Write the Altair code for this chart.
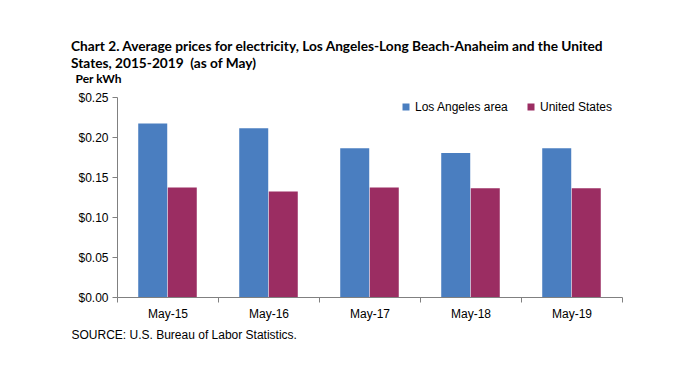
import altair as alt
import pandas as pd

categories = ["May-15", "May-16", "May-17", "May-18", "May-19"]
la_values = [0.217, 0.211, 0.186, 0.180, 0.186]
us_values = [0.137, 0.132, 0.137, 0.136, 0.136]
series = ["Los Angeles area", "United States"]
colors = ["#4A7EC0", "#9B2D62"]

rows = []
for c, la, us in zip(categories, la_values, us_values):
    rows.append({"month": c, "series": series[0], "price": la})
    rows.append({"month": c, "series": series[1], "price": us})
df = pd.DataFrame(rows)

chart = alt.Chart(df).mark_bar(size=29).encode(
    x=alt.X("month:N", sort=categories,
            scale=alt.Scale(paddingInner=0, paddingOuter=0),
            axis=alt.Axis(title="SOURCE: U.S. Bureau of Labor Statistics.",
                          titleX=-46, titleY=41, titleAlign="left",
                          titleAnchor="start", titleBaseline="alphabetic",
                          titleFont="Liberation Sans", titleFontSize=12,
                          titleFontWeight="normal", titleColor="#000000",
                          labelAngle=0, labelFont="Liberation Sans",
                          labelFontSize=12, labelColor="#000000",
                          labelPadding=6, tickBand="extent",
                          domainColor="#808080", tickColor="#808080",
                          tickSize=5)),
    xOffset=alt.XOffset("series:N", sort=series,
                        scale=alt.Scale(paddingInner=0, paddingOuter=0.71)),
    y=alt.Y("price:Q", scale=alt.Scale(domain=[0, 0.25]),
            axis=alt.Axis(values=[0, 0.05, 0.10, 0.15, 0.20, 0.25],
                          format="$.2f", grid=False,
                          title="Per kWh", titleAngle=0, titleX=-42,
                          titleY=-15, titleAlign="left",
                          titleBaseline="alphabetic",
                          titleFont="Lato", titleFontSize=12,
                          titleFontWeight="bold", titleColor="#000000",
                          labelFont="Liberation Sans", labelFontSize=12,
                          labelColor="#000000", labelPadding=4,
                          domainColor="#808080", tickColor="#808080",
                          tickSize=5)),
    color=alt.Color("series:N", sort=series,
                    scale=alt.Scale(domain=series, range=colors),
                    legend=alt.Legend(title=None, orient="none",
                                      legendX=283, legendY=4,
                                      direction="horizontal",
                                      symbolType="square", symbolSize=49,
                                      symbolStrokeWidth=0,
                                      labelFont="Liberation Sans",
                                      labelFontSize=12, labelColor="#000000",
                                      columnPadding=16, labelOffset=3)),
).properties(
    width=505, height=200,
    title=alt.TitleParams(
        text=["Chart 2. Average prices for electricity, Los Angeles-Long Beach-Anaheim and the United",
              "States, 2015-2019\u00a0 (as of May)"],
        anchor="start", frame="group", dx=-46, offset=1,
        font="Lato", fontSize=13.7, fontWeight="bold",
        color="#000000", lineHeight=17),
    autosize=alt.AutoSizeParams(type="none"),
    padding={"left": 109, "top": 89, "right": 66, "bottom": 71},
).configure_view(stroke=None)

chart.save("out.html", embed_options={"renderer": "svg", "actions": False})
